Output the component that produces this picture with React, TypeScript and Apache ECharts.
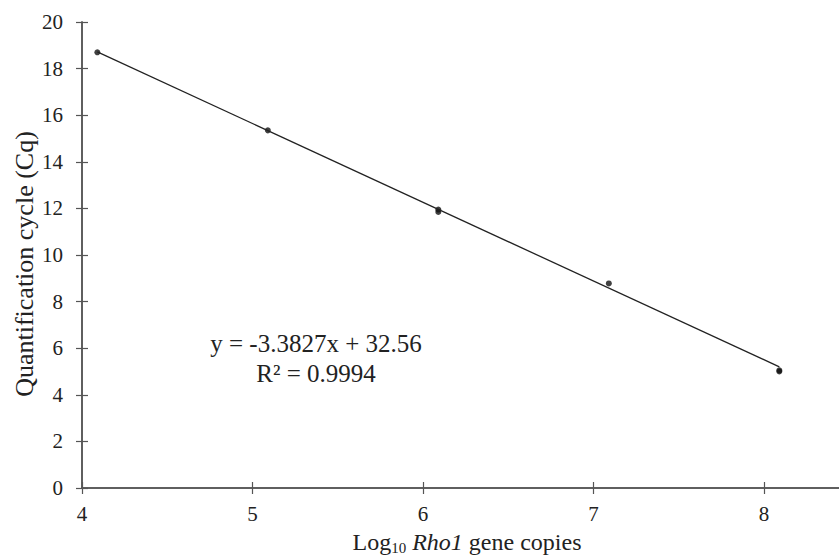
import React, { useEffect, useRef } from "react";
import * as echarts from "echarts";

const logCopies = [4.09, 5.09, 6.09, 6.09, 7.09, 8.09, 8.09];
const cqValues = [18.7, 15.35, 11.95, 11.85, 8.78, 5.05, 5.0];
const trendX = [4.09, 8.09];
const trendY = [18.72, 5.2];
const xTicks = [4, 5, 6, 7, 8];
const equationText = "y = -3.3827x + 32.56";
const r2Text = "R² = 0.9994";
const yTitle = "Quantification cycle (Cq)";

const FONT = "Liberation Serif";
const TEXT = "#222";
const AXIS = "#555";

export default function App() {
  const ref = useRef<HTMLDivElement>(null);
  useEffect(() => {
    if (!ref.current) return;
    const chart = echarts.init(ref.current, undefined, { renderer: "svg" });
    const xBase = {
      type: "value" as const,
      min: 4,
      max: 8.44,
      interval: 1,
      splitLine: { show: false },
      axisLine: { show: true, onZero: false, lineStyle: { color: AXIS, width: 1.5 } },
    };
    const yBase = {
      type: "value" as const,
      min: 0,
      max: 20,
      interval: 2,
      splitLine: { show: false },
      axisLine: { show: true, onZero: false, lineStyle: { color: AXIS, width: 1.5 } },
    };
    chart.setOption({
      animation: false,
      backgroundColor: "#fff",
      grid: { left: 82, right: 0, top: 22, bottom: 70, containLabel: false, outerBoundsMode: "none" },
      xAxis: [
        {
          ...xBase,
          axisTick: { show: true, customValues: xTicks, inside: false, length: 6, lineStyle: { color: AXIS, width: 1.2 } },
          axisLabel: { customValues: xTicks, color: TEXT, fontFamily: FONT, fontSize: 21, margin: 15 },
        },
        {
          ...xBase,
          position: "bottom",
          axisTick: { show: true, customValues: xTicks, inside: true, length: 6, lineStyle: { color: AXIS, width: 1.2 } },
          axisLabel: { show: false },
        },
      ],
      yAxis: [
        {
          ...yBase,
          axisTick: { show: true, inside: false, length: 6, lineStyle: { color: AXIS, width: 1.2 } },
          axisLabel: { color: TEXT, fontFamily: FONT, fontSize: 21, margin: 19 },
        },
        {
          ...yBase,
          position: "left",
          axisTick: { show: true, inside: true, length: 6, lineStyle: { color: AXIS, width: 1.2 } },
          axisLabel: { show: false },
        },
      ],
      graphic: [
        {
          type: "text",
          x: 316,
          y: 328,
          style: {
            text: equationText + "\n" + r2Text,
            font: `25px ${FONT}`,
            fill: TEXT,
            textAlign: "center",
            textVerticalAlign: "top",
            lineHeight: 30,
          },
        },
        {
          type: "text",
          x: 24,
          y: 264,
          rotation: Math.PI / 2,
          style: {
            text: yTitle,
            font: `26px ${FONT}`,
            fill: TEXT,
            textAlign: "center",
            textVerticalAlign: "middle",
          },
        },
        {
          type: "text",
          x: 467,
          y: 542,
          style: {
            text: "{a|Log}{sub|10}{it| Rho1}{a| gene copies}",
            font: `24px ${FONT}`,
            fill: TEXT,
            textAlign: "center",
            textVerticalAlign: "middle",
            rich: {
              a: { font: `24px ${FONT}`, fill: TEXT },
              sub: { font: `15px ${FONT}`, fill: TEXT, padding: [12, 0, 0, 0] },
              it: { font: `italic 24px ${FONT}`, fill: TEXT },
            },
          },
        },
      ],
      series: [
        {
          type: "line",
          data: trendX.map((x, i) => [x, trendY[i]]),
          symbol: "none",
          lineStyle: { color: "#222", width: 1.3 },
          silent: true,
        },
        {
          type: "scatter",
          data: logCopies.map((x, i) => [x, cqValues[i]]),
          symbol: "circle",
          symbolSize: 6,
          itemStyle: { color: "#111" },
        },
      ],
    });
    return () => chart.dispose();
  }, []);
  return <div ref={ref} style={{ width: 839, height: 558, position: "absolute", left: 0, top: 0 }} />;
}
